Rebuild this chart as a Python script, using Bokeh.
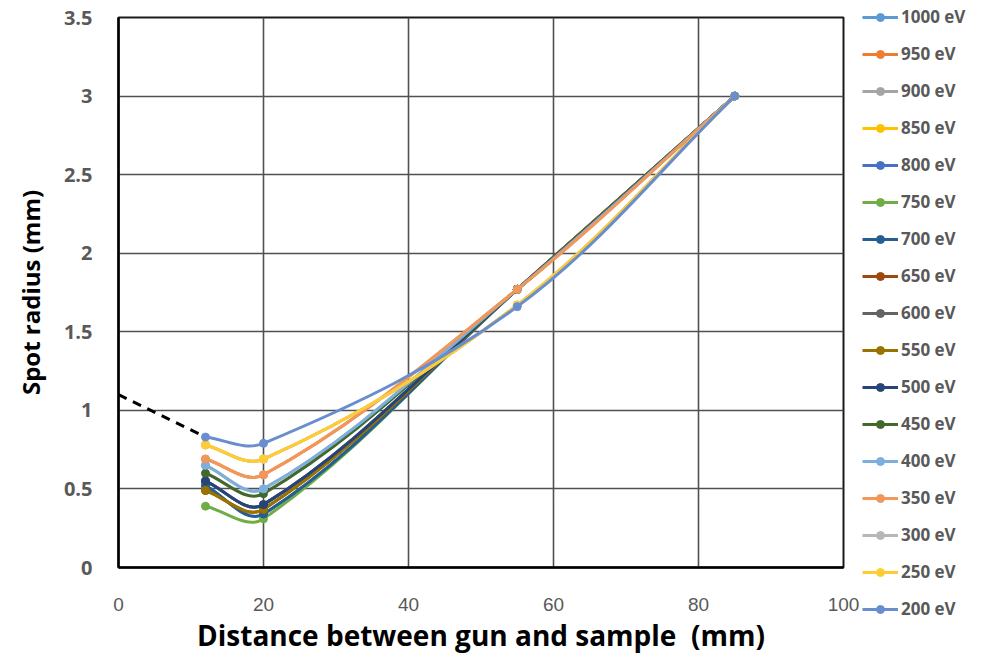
import math
from bokeh.plotting import figure
from bokeh.models import Range1d, Legend, LegendItem, FixedTicker
from bokeh.embed import file_html
from bokeh.resources import INLINE

# ---------------- data ----------------
distance = [12, 20, 55, 85]

energies = ["1000 eV", "950 eV", "900 eV", "850 eV", "800 eV", "750 eV", "700 eV",
            "650 eV", "600 eV", "550 eV", "500 eV", "450 eV", "400 eV", "350 eV",
            "300 eV", "250 eV", "200 eV"]

colors = ["#5B9BD5", "#ED7D31", "#A5A5A5", "#FFC000", "#4472C4", "#70AD47", "#255E91",
          "#9E480E", "#636363", "#997300", "#264478", "#43682B", "#7CAFDD", "#F1975A",
          "#B7B7B7", "#FFCD33", "#698ED0"]

r_1000 = [0.52, 0.34, 1.77, 3.0]
r_950 = [0.69, 0.59, 1.77, 3.0]
r_900 = [0.65, 0.50, 1.77, 3.0]
r_850 = [0.78, 0.69, 1.67, 3.0]
r_800 = [0.55, 0.40, 1.77, 3.0]
r_750 = [0.39, 0.31, 1.77, 3.0]
r_700 = [0.52, 0.34, 1.77, 3.0]
r_650 = [0.49, 0.37, 1.77, 3.0]
r_600 = [0.55, 0.40, 1.77, 3.0]
r_550 = [0.49, 0.37, 1.77, 3.0]
r_500 = [0.55, 0.40, 1.77, 3.0]
r_450 = [0.60, 0.47, 1.77, 3.0]
r_400 = [0.65, 0.50, 1.77, 3.0]
r_350 = [0.69, 0.59, 1.77, 3.0]
r_300 = [0.78, 0.69, 1.67, 3.0]
r_250 = [0.78, 0.69, 1.67, 3.0]
r_200 = [0.83, 0.79, 1.66, 3.0]

radii = [r_1000, r_950, r_900, r_850, r_800, r_750, r_700, r_650, r_600,
         r_550, r_500, r_450, r_400, r_350, r_300, r_250, r_200]

extrap_x = [0, 12]
extrap_y = [1.1, 0.83]

x_ticks = [0, 20, 40, 60, 80, 100]
y_ticks = [0, 0.5, 1, 1.5, 2, 2.5, 3, 3.5]
y_tick_labels = ["0", "0.5", "1", "1.5", "2", "2.5", "3", "3.5"]

# ---------------- layout ----------------
FW, FH = 725, 550
ML, MT, MB = 118, 17, 96
X0, X1, Y0, Y1 = 0, 100, 0, 3.5
sx = FW / (X1 - X0)
sy = FH / (Y1 - Y0)


def smooth_segments(xs, ys, k=0.36):
    """Excel-like smoothed line: cubic Bezier segments with chord-scaled tangents."""
    P = [(x * sx, y * sy) for x, y in zip(xs, ys)]
    n = len(P)
    segs = []
    for i in range(n - 1):
        p1, p2 = P[i], P[i + 1]
        d12 = math.dist(p1, p2)
        if i > 0:
            p0 = P[i - 1]
            d01 = math.dist(p0, p1)
            f = k * d12 / (d01 + d12)
            c1 = (p1[0] + (p2[0] - p0[0]) * f, p1[1] + (p2[1] - p0[1]) * f)
        else:
            c1 = (p1[0] + (p2[0] - p1[0]) / 3, p1[1] + (p2[1] - p1[1]) / 3)
        if i + 2 < n:
            p3 = P[i + 2]
            d23 = math.dist(p2, p3)
            f = k * d12 / (d12 + d23)
            c2 = (p2[0] - (p3[0] - p1[0]) * f, p2[1] - (p3[1] - p1[1]) * f)
        else:
            c2 = (p2[0] - (p2[0] - p1[0]) / 3, p2[1] - (p2[1] - p1[1]) / 3)
        segs.append((p1[0] / sx, p1[1] / sy, p2[0] / sx, p2[1] / sy,
                     c1[0] / sx, c1[1] / sy, c2[0] / sx, c2[1] / sy))
    cols = list(zip(*segs))
    return dict(x0=list(cols[0]), y0=list(cols[1]), x1=list(cols[2]), y1=list(cols[3]),
                cx0=list(cols[4]), cy0=list(cols[5]), cx1=list(cols[6]), cy1=list(cols[7]))


p = figure(frame_width=FW, frame_height=FH, output_backend="svg", toolbar_location=None,
           x_range=Range1d(X0, X1), y_range=Range1d(Y0, Y1),
           min_border_left=ML, min_border_right=0, min_border_top=MT, min_border_bottom=MB)
p.background_fill_color = "white"
p.border_fill_color = "white"
p.outline_line_color = "#1a1a1a"
p.outline_line_width = 2

# grid
p.xgrid.ticker = FixedTicker(ticks=x_ticks)
p.ygrid.ticker = FixedTicker(ticks=y_ticks)
for g in (p.xgrid, p.ygrid):
    g.grid_line_color = "#505050"
    g.grid_line_width = 1.6

# axes
p.xaxis.ticker = FixedTicker(ticks=x_ticks)
p.yaxis.ticker = FixedTicker(ticks=y_ticks)
p.yaxis.major_label_overrides = {t: l for t, l in zip(y_ticks, y_tick_labels)}
for ax in (p.xaxis, p.yaxis):
    ax.axis_line_color = "black"
    ax.axis_line_width = 2.5
    ax.major_tick_line_color = None
    ax.minor_tick_line_color = None
    ax.major_label_text_color = "#595959"
    ax.axis_label_text_color = "black"
    ax.axis_label_text_font = "Open Sans"
    ax.axis_label_text_font_style = "bold"

p.xaxis.major_label_text_font = "Liberation Sans Narrow, Liberation Sans"
p.xaxis.major_label_text_font_size = "19px"
p.xaxis.major_label_standoff = 24
p.yaxis.major_label_text_font = "Open Sans"
p.yaxis.major_label_text_font_style = "bold"
p.yaxis.major_label_text_font_size = "20px"
p.yaxis.major_label_standoff = 20

p.xaxis.axis_label = "Distance between gun and sample \u00a0(mm)"
p.xaxis.axis_label_text_font_size = "28px"
p.xaxis.axis_label_standoff = 2
p.yaxis.axis_label = "Spot radius (mm)"
p.yaxis.axis_label_text_font_size = "24px"
p.yaxis.axis_label_standoff = 14

# extrapolation (dashed)
p.line(extrap_x, extrap_y, line_color="black", line_width=3, line_dash="9 7")

items = []
for name, col, ys in zip(energies, colors, radii):
    segs = smooth_segments(distance, ys)
    r_line = p.bezier(x0="x0", y0="y0", x1="x1", y1="y1", cx0="cx0", cy0="cy0",
                      cx1="cx1", cy1="cy1", source=segs, line_color=col, line_width=3)
    r_pts = p.scatter(distance, ys, size=8, marker="circle", fill_color=col, line_color=col)
    items.append(LegendItem(label=name, renderers=[r_line, r_pts]))

legend = Legend(items=items, location=(19, -53), orientation="vertical",
                glyph_width=36, glyph_height=20, label_height=20, spacing=14,
                padding=4, margin=0, label_standoff=3,
                label_text_font="Open Sans", label_text_font_style="bold",
                label_text_font_size="17px", label_text_color="#595959",
                border_line_color=None, background_fill_alpha=0)
p.add_layout(legend, "right")

open("out.html", "w").write(file_html(p, INLINE))
